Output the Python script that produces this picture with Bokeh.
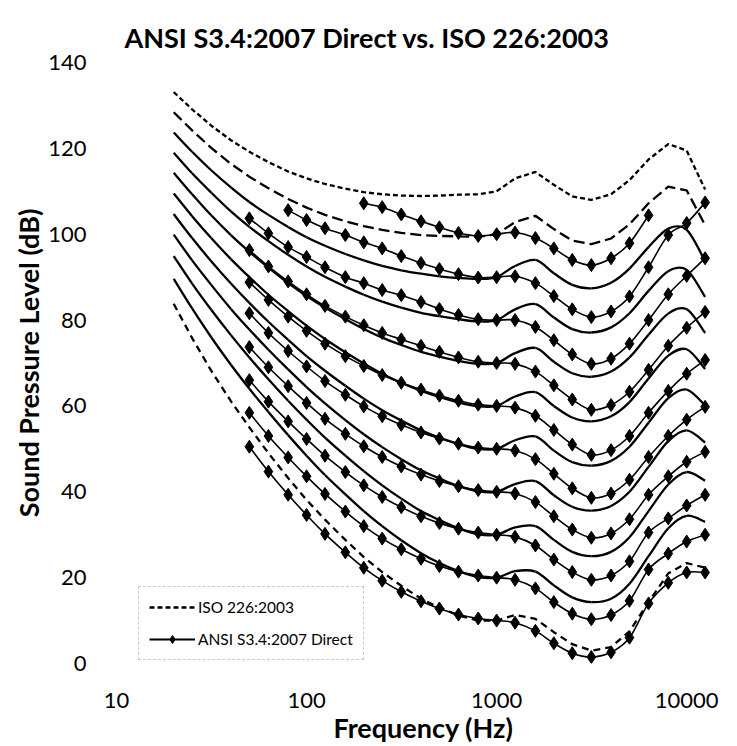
import math
from bokeh.plotting import figure
from bokeh.models import FixedTicker, Legend, LegendItem, CustomJSTickFormatter, Range1d
from bokeh.embed import file_html
from bokeh.resources import INLINE

nan = float("nan")

title_text = "ANSI S3.4:2007 Direct vs. ISO 226:2003"
x_title = "Frequency (Hz)"
y_title = "Sound Pressure Level (dB)"
x_ticks = [10, 100, 1000, 10000]
y_ticks = [0, 20, 40, 60, 80, 100, 120, 140]

# ISO 226:2003 contours (phon levels 10..110)
iso_freqs = [20, 25, 31.5, 40, 50, 63, 80, 100, 125, 160, 200, 250, 315, 400, 500,
             630, 800, 1000, 1250, 1600, 2000, 2500, 3150, 4000, 5000, 6300, 8000, 10000, 12500]
iso_10 = [83.8, 75.8, 68.2, 61.1, 55.0, 49.0, 43.2, 38.1, 33.5, 28.8, 24.8, 21.3, 18.1, 15.1, 13.0, 11.2, 10.0, 10.0, 11.3, 10.4, 7.3, 4.5, 3.0, 3.8, 7.5, 14.3, 21.0, 23.4, 22.3]
iso_20 = [89.6, 82.7, 76.0, 69.6, 64.0, 58.6, 53.2, 48.4, 43.9, 39.4, 35.5, 32.0, 28.7, 25.7, 23.4, 21.5, 20.1, 20.0, 21.5, 21.4, 18.2, 15.4, 14.3, 15.1, 18.6, 25.0, 31.5, 34.4, 33.0]
iso_30 = [94.9, 88.5, 82.4, 76.5, 71.3, 66.2, 61.2, 56.8, 52.6, 48.4, 44.8, 41.5, 38.4, 35.5, 33.4, 31.5, 30.1, 30.0, 31.7, 32.0, 28.8, 26.0, 25.0, 26.0, 29.4, 35.5, 41.7, 44.6, 42.6]
iso_40 = [99.9, 93.9, 88.2, 82.6, 77.8, 73.1, 68.5, 64.4, 60.6, 56.7, 53.4, 50.4, 47.6, 45.0, 43.1, 41.3, 40.1, 40.0, 41.8, 42.5, 39.2, 36.5, 35.6, 36.7, 40.0, 45.8, 51.8, 54.3, 51.5]
iso_50 = [104.7, 99.1, 93.7, 88.5, 84.0, 79.6, 75.4, 71.6, 68.2, 64.7, 61.7, 59.0, 56.6, 54.3, 52.6, 51.1, 50.0, 50.0, 52.0, 52.9, 49.6, 46.9, 46.1, 47.2, 50.5, 56.1, 61.8, 63.8, 60.1]
iso_60 = [109.5, 104.2, 99.1, 94.2, 90.0, 85.9, 82.1, 78.7, 75.6, 72.5, 69.9, 67.5, 65.4, 63.5, 62.1, 60.8, 59.9, 60.0, 62.2, 63.2, 60.0, 57.3, 56.4, 57.6, 60.9, 66.4, 71.7, 73.2, 68.6]
iso_70 = [114.3, 109.3, 104.4, 99.8, 95.9, 92.2, 88.6, 85.6, 82.9, 80.2, 77.9, 75.9, 74.2, 72.6, 71.5, 70.5, 69.8, 70.0, 72.3, 73.5, 70.3, 67.6, 66.8, 68.0, 71.3, 76.6, 81.5, 82.5, 77.0]
iso_80 = [119.0, 114.2, 109.7, 105.3, 101.7, 98.4, 95.2, 92.5, 90.1, 87.8, 85.9, 84.3, 82.9, 81.7, 80.9, 80.2, 79.7, 80.0, 82.5, 83.7, 80.6, 77.9, 77.1, 78.3, 81.6, 86.8, 91.4, 91.7, 85.4]
iso_90 = [123.7, 119.2, 114.9, 110.9, 107.5, 104.5, 101.7, 99.3, 97.3, 95.4, 93.9, 92.6, 91.6, 90.8, 90.2, 89.8, 89.6, 90.0, 92.6, 94.0, 90.9, 88.2, 87.4, 88.7, 92.0, 97.0, 101.3, 101.0, 93.7]
iso_100 = [128.4, 124.2, 120.1, 116.4, 113.4, 110.7, 108.2, 106.2, 104.5, 103.0, 101.9, 101.0, 100.3, 99.8, 99.6, 99.5, 99.4, 100.0, 102.8, 104.3, 101.2, 98.5, 97.7, 99.0, 102.3, 107.2, 111.1, 110.2, 102.1]
iso_110 = [133.1, 129.1, 125.3, 121.9, 119.2, 116.8, 114.6, 113.0, 111.7, 110.6, 109.8, 109.3, 109.0, 108.9, 109.0, 109.2, 109.3, 110.0, 113.0, 114.5, 111.5, 108.8, 108.0, 109.3, 112.6, 117.4, 121.0, 119.5, 110.4]

# ANSI S3.4:2007 Direct contours (phon levels 10..100), 1/3-octave points
ansi_freqs = [50, 63, 80, 100, 125, 160, 200, 250, 315, 400, 500, 630, 800, 1000,
              1250, 1600, 2000, 2500, 3150, 4000, 5000, 6300, 8000, 10000, 12500]
ansi_10 = [50.5, 44.7, 39.3, 34.6, 30.2, 25.9, 22.3, 19.3, 16.7, 14.5, 12.8, 11.4, 10.5, 10.0, 9.5, 7.6, 4.7, 2.4, 1.5, 2.6, 6.0, 14.0, 18.8, 21.2, 21.2]
ansi_20 = [58.4, 53.0, 48.0, 43.6, 39.5, 35.4, 32.0, 29.1, 26.6, 24.4, 22.7, 21.4, 20.5, 20.0, 19.5, 17.5, 14.3, 11.6, 10.3, 11.3, 14.6, 21.9, 25.6, 28.4, 30.0]
ansi_30 = [66.0, 61.0, 56.4, 52.3, 48.4, 44.6, 41.5, 38.8, 36.4, 34.3, 32.7, 31.4, 30.5, 30.0, 29.5, 27.5, 24.2, 21.3, 19.5, 20.5, 23.8, 30.5, 33.8, 36.8, 39.3]
ansi_40 = [73.7, 69.0, 64.6, 60.7, 57.0, 53.5, 50.6, 48.1, 45.9, 44.0, 42.5, 41.3, 40.4, 40.0, 39.6, 37.6, 34.3, 31.2, 29.3, 30.3, 33.6, 39.3, 43.6, 47.0, 49.3]
ansi_50 = [81.6, 77.0, 72.8, 69.2, 65.8, 62.6, 59.9, 57.6, 55.6, 53.8, 52.4, 51.2, 50.3, 50.0, 49.6, 47.6, 44.2, 40.8, 38.6, 39.6, 42.8, 48.1, 53.0, 56.8, 59.8]
ansi_60 = [88.8, 84.7, 80.8, 77.5, 74.5, 71.6, 69.3, 67.2, 65.4, 63.8, 62.4, 61.2, 60.3, 60.0, 59.6, 57.7, 54.4, 51.0, 48.6, 49.7, 53.0, 58.4, 63.5, 67.5, 70.7]
ansi_70 = [96.3, 92.5, 89.0, 86.0, 83.3, 80.8, 78.8, 77.0, 75.5, 74.0, 72.6, 71.3, 70.3, 70.0, 69.8, 68.0, 64.8, 61.5, 59.1, 60.2, 63.3, 68.4, 74.0, 78.2, 81.9]
ansi_80 = [103.7, 100.2, 97.0, 94.7, 92.3, 90.0, 88.6, 87.0, 85.8, 84.2, 82.6, 81.2, 80.2, 80.0, 80.0, 78.4, 75.3, 72.0, 69.8, 71.0, 74.5, 80.0, 86.0, 90.3, 94.4]
ansi_90 = [nan, nan, 105.6, 103.3, 101.4, 99.8, 98.1, 96.7, 94.9, 93.3, 91.9, 90.7, 89.9, 90.0, 90.2, 88.6, 85.6, 82.5, 80.7, 82.0, 85.5, 92.3, 99.8, 102.6, 107.4]
ansi_100 = [nan, nan, nan, nan, nan, nan, 107.2, 106.3, 104.6, 103.0, 101.6, 100.3, 99.6, 100.0, 100.4, 99.1, 96.7, 94.0, 92.8, 94.4, 97.9, 104.4, nan, nan, nan]

iso_series = [iso_10, iso_20, iso_30, iso_40, iso_50, iso_60, iso_70, iso_80, iso_90, iso_100, iso_110]
iso_dash = ["7 5", "solid", "solid", "solid", "solid", "solid", "solid", "solid", "solid", "11 5", "5 3"]
ansi_series = [ansi_10, ansi_20, ansi_30, ansi_40, ansi_50, ansi_60, ansi_70, ansi_80, ansi_90, ansi_100]

FONT = "Lato"


def smooth_segments(xs, ys):
    """Bezier control points (Excel-style smoothed line) in log-x space."""
    u = [math.log10(x) for x in xs]
    n = len(xs)
    ok = [not math.isnan(v) for v in ys]
    out = dict(x0=[], y0=[], x1=[], y1=[], cx0=[], cy0=[], cx1=[], cy1=[])
    for i in range(n - 1):
        if not (ok[i] and ok[i + 1]):
            continue
        a = i - 1 if (i - 1 >= 0 and ok[i - 1]) else i
        d = i + 2 if (i + 2 < n and ok[i + 2]) else i + 1
        c0u = u[i] + (u[i + 1] - u[a]) / 6.0
        c0y = ys[i] + (ys[i + 1] - ys[a]) / 6.0
        c1u = u[i + 1] - (u[d] - u[i]) / 6.0
        c1y = ys[i + 1] - (ys[d] - ys[i]) / 6.0
        out["x0"].append(xs[i]); out["y0"].append(ys[i])
        out["x1"].append(xs[i + 1]); out["y1"].append(ys[i + 1])
        out["cx0"].append(10 ** c0u); out["cy0"].append(c0y)
        out["cx1"].append(10 ** c1u); out["cy1"].append(c1y)
    return out


p = figure(width=737, height=746, x_axis_type="log",
           x_range=Range1d(10, 17000), y_range=Range1d(0, 140),
           output_backend="svg", toolbar_location=None,
           min_border_left=116, min_border_right=7, min_border_top=62, min_border_bottom=82)
p.xgrid.visible = False
p.ygrid.visible = False
p.outline_line_color = None
p.background_fill_color = "white"
p.border_fill_color = "white"

for ys, dash in zip(iso_series, iso_dash):
    if dash == "solid":
        seg = smooth_segments(iso_freqs, ys)
        p.bezier(**seg, line_color="black", line_width=2.3)
    else:
        p.line(iso_freqs, ys, line_color="black", line_width=2.3, line_dash=dash)

for ys in ansi_series:
    seg = smooth_segments(ansi_freqs, ys)
    p.bezier(**seg, line_color="black", line_width=1.6)
    p.scatter(ansi_freqs, ys, marker="diamond", size=13, fill_color="black", line_color="black")

# off-range renderers used only for the legend glyphs
leg_x = [1, 2]
leg_y = [-50, -50]
leg_iso = p.line(leg_x, leg_y, line_color="black", line_width=2.3, line_dash="5 3")
leg_ansi_l = p.line(leg_x, leg_y, line_color="black", line_width=2)
leg_ansi_m = p.scatter(leg_x, leg_y, marker="diamond", size=13, fill_color="black", line_color="black")

for ax in (p.xaxis[0], p.yaxis[0]):
    ax.axis_line_color = None
    ax.major_tick_line_color = None
    ax.minor_tick_line_color = None
    ax.major_label_text_font = FONT
    ax.major_label_text_font_size = "22px"
    ax.major_label_text_color = "black"
    ax.axis_label_text_font = FONT
    ax.axis_label_text_font_style = "bold"
    ax.axis_label_text_font_size = "27px"
    ax.axis_label_text_color = "black"

p.xaxis.ticker = FixedTicker(ticks=x_ticks)
p.xaxis.formatter = CustomJSTickFormatter(code="return tick.toFixed(0);")
p.xaxis.major_label_standoff = 23
p.xaxis.axis_label = x_title
p.xaxis.axis_label_standoff = 0

p.yaxis.ticker = FixedTicker(ticks=y_ticks)
p.yaxis.major_label_standoff = 24
p.yaxis.axis_label = y_title
p.yaxis.axis_label_standoff = 0

p.title.text = title_text
p.title.align = "left"
p.title.offset = 8
p.title.standoff = 18
p.title.text_font = FONT
p.title.text_font_style = "bold"
p.title.text_font_size = "27px"
p.title.text_color = "black"

legend = Legend(items=[LegendItem(label="ISO 226:2003", renderers=[leg_iso]),
                       LegendItem(label="ANSI S3.4:2007 Direct", renderers=[leg_ansi_l, leg_ansi_m])],
                location=(22, 3), orientation="vertical")
legend.label_text_font = FONT
legend.label_text_font_size = "15.5px"
legend.label_text_color = "black"
legend.glyph_width = 46
legend.glyph_height = 20
legend.label_standoff = 3
legend.spacing = 12
legend.padding = 10
legend.margin = 0
legend.border_line_color = "#999999"
legend.border_line_width = 1
legend.border_line_dash = "2 1"
legend.background_fill_color = "white"
legend.background_fill_alpha = 1.0
p.add_layout(legend)

open("out.html", "w").write(file_html(p, INLINE))
